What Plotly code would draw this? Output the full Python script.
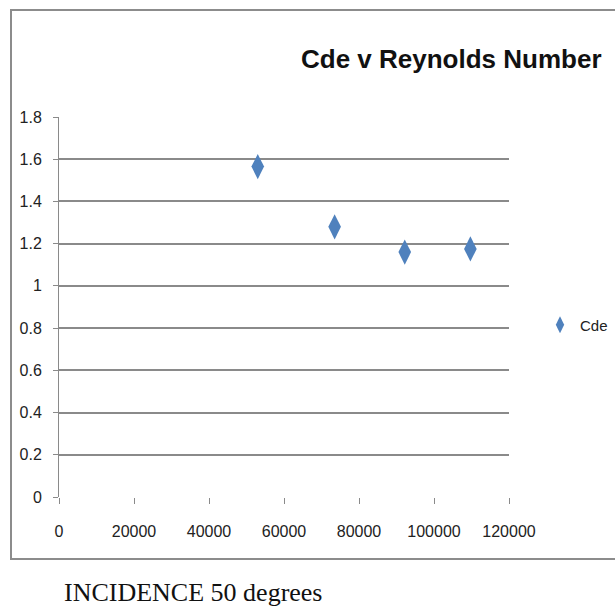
import plotly.graph_objects as go

# Reynolds number vs discharge coefficient at 50 degrees incidence
reynolds = [53000, 73500, 92200, 109700]
cde = [1.565, 1.28, 1.16, 1.175]

x_ticks = [0, 20000, 40000, 60000, 80000, 100000, 120000]
y_ticks = [0, 0.2, 0.4, 0.6, 0.8, 1.0, 1.2, 1.4, 1.6, 1.8]
y_tick_text = ["0", "0.2", "0.4", "0.6", "0.8", "1", "1.2", "1.4", "1.6", "1.8"]

W, H = 615, 607
L, R, T, B = 59, 106, 117, 110
pw, ph = W - L - R, H - T - B

blue = "#4F81BD"
grid = "#8A8A8A"
sans = "Liberation Sans, Arial, sans-serif"

fig = go.Figure()
fig.add_trace(go.Scatter(
    x=reynolds, y=cde, mode="markers", name="Cde",
    marker=dict(symbol="diamond-tall", size=18, color=blue),
))

def px_x(p):
    return (p - L) / pw

def px_y(p):
    return (H - B - p) / ph

fig.update_layout(
    width=W, height=H,
    margin=dict(l=L, r=R, t=T, b=B, autoexpand=False),
    paper_bgcolor="white", plot_bgcolor="white",
    font=dict(family=sans, size=16, color="#222222"),
    showlegend=True,
    legend=dict(xref="container", yref="container",
                x=540 / W, y=1 - 325 / H, xanchor="left", yanchor="middle",
                bgcolor="rgba(0,0,0,0)", font=dict(size=15, family=sans),
                itemwidth=30, itemsizing="constant"),
    xaxis=dict(range=[0, 120000], tickvals=x_ticks,
               ticktext=[str(v) for v in x_ticks],
               showgrid=False, zeroline=False, showline=False,
               ticks="outside", ticklen=6, tickcolor=grid, tickwidth=1,
               ticklabelstandoff=14, tickfont=dict(size=16, family=sans)),
    yaxis=dict(range=[0, 1.8], tickvals=y_ticks, ticktext=y_tick_text,
               showgrid=True, gridcolor=grid, gridwidth=1.5,
               zeroline=False, showline=True, linecolor=grid, linewidth=1,
               ticks="outside", ticklen=5, tickcolor=grid, tickwidth=1,
               ticklabelstandoff=8, tickfont=dict(size=16, family=sans)),
)

# outer chart frame (open on the right, where it runs off the page)
fig.add_shape(type="path", xref="paper", yref="paper",
              path=f"M 1.5,{px_y(10)} L {px_x(11)},{px_y(10)} L {px_x(11)},{px_y(559)} L 1.5,{px_y(559)}",
              line=dict(color="#8C8C8C", width=2))

fig.add_annotation(text="<b>Cde v Reynolds Number</b>", xref="paper", yref="paper",
                   x=px_x(451), y=px_y(59), xanchor="center", yanchor="middle",
                   showarrow=False, font=dict(size=26, family=sans, color="#111111"))

fig.add_annotation(text="INCIDENCE 50 degrees", xref="paper", yref="paper",
                   x=px_x(62), y=px_y(592), xanchor="left", yanchor="middle",
                   showarrow=False,
                   font=dict(size=26, family="Liberation Serif, Times New Roman, serif",
                             color="#111111"))

fig.write_html("out.html")
